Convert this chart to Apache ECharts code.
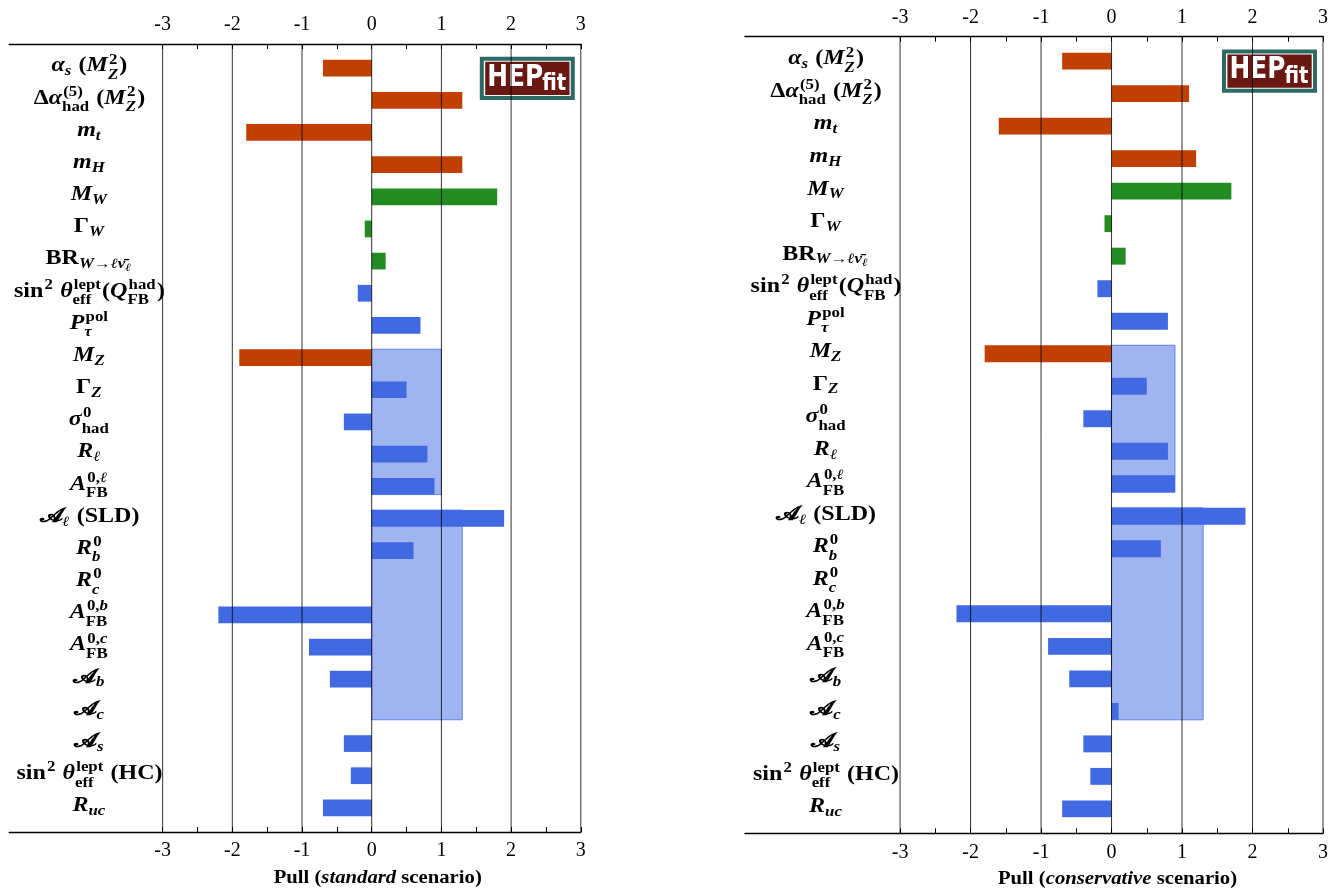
<!DOCTYPE html>
<html>
<head>
<meta charset="utf-8">
<title>Pulls</title>
<script src="https://cdn.jsdelivr.net/npm/echarts@6/dist/echarts.min.js"></script>
<style>
  html, body { margin: 0; padding: 0; background: #fff; }
  #main { width: 1336px; height: 890px; }
</style>
</head>
<body>
<div id="main"></div>
<script>
// observables, top to bottom. mini TeX: _ sub, ^ sup, `...` upright text
var observables = [
  "α_s (M^2_Z)",
  "Δα^{(5)}_{`had`} (M^2_Z)",
  "m_t",
  "m_H",
  "M_W",
  "Γ_W",
  "`BR`_{W→ℓ\u03bd\u0304_ℓ}",
  "`sin`^2 θ^{`lept`}_{`eff`}(Q^{`had`}_{`FB`})",
  "P^{`pol`}_τ",
  "M_Z",
  "Γ_Z",
  "σ^0_{`had`}",
  "R_ℓ",
  "A^{0,ℓ}_{`FB`}",
  "𝓐_ℓ `(SLD)`",
  "R^0_b",
  "R^0_c",
  "A^{0,b}_{`FB`}",
  "A^{0,c}_{`FB`}",
  "𝓐_b",
  "𝓐_c",
  "𝓐_s",
  "`sin`^2 θ^{`lept`}_{`eff`} `(HC)`",
  "R_{uc}"
];
var observableGroups = ['input', 'input', 'input', 'input', 'w', 'w', 'w', 'z', 'z', 'input', 'z', 'z',
  'z', 'z', 'z', 'z', 'z', 'z', 'z', 'z', 'z', 'z', 'z', 'z'];

var pullStandard = [-0.7, 1.3, -1.8, 1.3, 1.8, -0.1, 0.2, -0.2, 0.7, -1.9, 0.5, -0.4,
  0.8, 0.9, 1.9, 0.6, 0.0, -2.2, -0.9, -0.6, 0.0, -0.4, -0.3, -0.7];
var pullConservative = [-0.7, 1.1, -1.6, 1.2, 1.7, -0.1, 0.2, -0.2, 0.8, -1.8, 0.5, -0.4,
  0.8, 0.9, 1.9, 0.7, 0.0, -2.2, -0.9, -0.6, 0.1, -0.4, -0.3, -0.7];

// shaded boxes: [first row, last row, pull]
var boxesStandard = [[9, 13, 1.0], [14, 20, 1.3]];
var boxesConservative = [[9, 13, 0.9], [14, 20, 1.3]];

var tickValues = [-3, -2, -1, 0, 1, 2, 3];
var minorTickValues = [-3, -2.5, -2, -1.5, -1, -0.5, 0, 0.5, 1, 1.5, 2, 2.5, 3];

var GROUP_COLORS = { input: '#c04000', w: '#228b22', z: '#4169e1' };
var SERIF = '"Liberation Serif", "DejaVu Serif", serif';
var MATH_SIZES = [20, 14, 11];
var LABEL_STRETCH = 1.2;
var LABEL_X = -4.05;
var BAR_H = 0.52;
var X_MIN = -5.2, X_MAX = 3;
var Y_MIN = -0.75, Y_MAX = 23.75;

var panels = [
  { left: 9.3, right: 755.2, top: 44, bottom: 58, pulls: pullStandard, boxes: boxesStandard, word: 'standard' },
  { left: 745, right: 13, top: 36.7, bottom: 56.7, pulls: pullConservative, boxes: boxesConservative, word: 'conservative' }
];

// ---- tiny math layout, widths from a canvas ----
var mctx = document.createElement('canvas').getContext('2d');
function fontStr(size, italic) {
  return (italic ? 'italic ' : '') + 'bold ' + size + 'px ' + SERIF;
}
function measure(text, size, italic) {
  mctx.font = fontStr(size, italic);
  return mctx.measureText(text).width;
}
function readGroup(s, i) {
  if (s[i] === '{') {
    var depth = 1, j = i + 1;
    while (j < s.length && depth) {
      if (s[j] === '{') depth++;
      else if (s[j] === '}') depth--;
      j++;
    }
    return [s.slice(i + 1, j - 1), j];
  }
  var ch = String.fromCodePoint(s.codePointAt(i));
  return [ch, i + ch.length];
}
function layoutMath(s, level) {
  var size = MATH_SIZES[Math.min(level, 2)];
  var items = [], x = 0, i = 0, roman = false, run = '', runItalic = null;
  function flush() {
    if (run) {
      items.push({ text: run, x: x, dy: 0, size: size, italic: runItalic });
      x += measure(run, size, runItalic);
      run = '';
    }
  }
  while (i < s.length) {
    var c = s[i];
    if (c === '`') { roman = !roman; i++; continue; }
    if (c === '_' || c === '^') {
      flush();
      var g = readGroup(s, i + 1); i = g[1];
      var sup = c === '^' ? g[0] : null, sub = c === '_' ? g[0] : null;
      var other = c === '^' ? '_' : '^';
      if (s[i] === other) {
        var g2 = readGroup(s, i + 1); i = g2[1];
        if (other === '^') sup = g2[0]; else sub = g2[0];
      }
      var w = 0;
      if (sup !== null) {
        var A = layoutMath(sup, level + 1);
        A.items.forEach(function (it) {
          items.push({ text: it.text, x: x + 1 + it.x, dy: it.dy - size * 0.42, size: it.size, italic: it.italic });
        });
        w = Math.max(w, A.width + 1);
      }
      if (sub !== null) {
        var B = layoutMath(sub, level + 1);
        var down = sup !== null ? size * 0.35 : size * 0.17;
        B.items.forEach(function (it) {
          items.push({ text: it.text, x: x + it.x, dy: it.dy + down, size: it.size, italic: it.italic });
        });
        w = Math.max(w, B.width);
      }
      x += w + 1;
      continue;
    }
    var ch = String.fromCodePoint(s.codePointAt(i));
    i += ch.length;
    var it = /[\u0300-\u036f]/.test(ch) ? runItalic : (!roman && /[A-Za-z\u03b1-\u03c9ℓ]/.test(ch));
    if (run && it !== runItalic) flush();
    runItalic = it;
    run += ch;
  }
  flush();
  return { items: items, width: x };
}
var layouts = observables.map(function (s) { return layoutMath(s, 0); });

// ---- renderers ----
function renderBar(params, api) {
  var v = api.value(0), row = api.value(1);
  var p0 = api.coord([0, row]), p1 = api.coord([v, row]);
  var h = api.size([0, BAR_H])[1];
  return {
    type: 'rect',
    shape: { x: Math.min(p0[0], p1[0]), y: p0[1] - h / 2, width: Math.abs(p1[0] - p0[0]), height: h },
    style: { fill: GROUP_COLORS[observableGroups[row]] }
  };
}
function renderBox(params, api) {
  var w = api.value(0), a = api.value(1), b = api.value(2);
  var p0 = api.coord([0, a - BAR_H / 2]), p1 = api.coord([w, b + BAR_H / 2]);
  return {
    type: 'rect',
    shape: { x: p0[0], y: p0[1], width: p1[0] - p0[0], height: p1[1] - p0[1] },
    style: { fill: 'rgba(65,105,225,0.5)', stroke: 'rgba(65,105,225,0.75)', lineWidth: 1 }
  };
}
function renderGridLine(params, api) {
  var v = api.value(0);
  var a = api.coord([v, Y_MIN]), b = api.coord([v, Y_MAX]);
  return {
    type: 'line',
    shape: { x1: a[0], y1: a[1], x2: b[0], y2: b[1] },
    style: { stroke: 'rgba(0,0,0,0.8)', lineWidth: 1 }
  };
}
function renderLabel(params, api) {
  var row = api.value(1);
  var p = api.coord([api.value(0), row]);
  var L = layouts[row];
  var kids = L.items.map(function (it) {
    return {
      type: 'text',
      x: it.x - L.width / 2,
      y: 5 + it.dy - 0.34 * it.size,
      style: {
        text: it.text, fill: '#000', font: fontStr(it.size, it.italic),
        textAlign: 'left', align: 'left', textVerticalAlign: 'middle', verticalAlign: 'middle'
      }
    };
  });
  return { type: 'group', x: p[0], y: p[1], scaleX: LABEL_STRETCH, children: kids };
}

var option = {
  animation: false,
  backgroundColor: '#fff',
  grid: [], xAxis: [], yAxis: [], series: []
};
panels.forEach(function (p, k) {
  option.grid.push({ left: p.left, right: p.right, top: p.top, bottom: p.bottom, containLabel: false, outerBoundsMode: 'none' });
  ['top', 'bottom'].forEach(function (pos) {
    option.xAxis.push({
      gridIndex: k, type: 'value', position: pos, min: X_MIN, max: X_MAX,
      axisLine: { show: true, onZero: false, lineStyle: { color: '#000', width: 1.4 } },
      axisTick: { show: true, inside: true, length: 5, customValues: minorTickValues, lineStyle: { color: '#000', width: 1 } },
      axisLabel: { show: true, customValues: tickValues, margin: pos === 'top' ? 9 : 9, color: '#000', fontFamily: SERIF, fontSize: 20 },
      splitLine: { show: false }
    });
  });
  option.yAxis.push({ gridIndex: k, type: 'value', min: Y_MIN, max: Y_MAX, inverse: true, show: false });
  var common = { type: 'custom', xAxisIndex: 2 * k, yAxisIndex: k, silent: true, encode: { x: 0, y: 1 } };
  option.series.push(Object.assign({}, common, {
    name: 'boxes' + k, z: 1, renderItem: renderBox,
    data: p.boxes.map(function (b) { return [b[2], b[0], b[1]]; })
  }));
  option.series.push(Object.assign({}, common, {
    name: 'pulls' + k, z: 2, renderItem: renderBar,
    data: p.pulls.map(function (v, i) { return [v, i]; })
  }));
  option.series.push(Object.assign({}, common, {
    name: 'grid' + k, z: 3, renderItem: renderGridLine,
    data: tickValues.map(function (v) { return [v, Y_MIN]; })
  }));
  option.series.push(Object.assign({}, common, {
    name: 'labels' + k, z: 3, renderItem: renderLabel,
    data: observables.map(function (s, i) { return [LABEL_X, i]; })
  }));
});

var chart = echarts.init(document.getElementById('main'), null, { renderer: 'canvas' });
chart.setOption(option);

// logos and axis titles, placed from the grids
function logo(x, y) {
  var logoFont = '"DejaVu Sans Condensed", "DejaVu Sans"';
  return {
    type: 'group', x: x, y: y, silent: true, children: [
      { type: 'rect', shape: { x: 2, y: 2, width: 91, height: 39.3 }, style: { fill: '#fff', stroke: '#2d6a66', lineWidth: 4 } },
      { type: 'rect', shape: { x: 5.4, y: 5, width: 84.3, height: 33.3 }, style: { fill: '#6b1812' } },
      { type: 'text', x: 7.5, y: 21.3, scaleX: 0.92, style: { text: 'HEP', fill: '#fff', stroke: '#3a0a06', lineWidth: 0.6, font: 'bold 30px ' + logoFont, textVerticalAlign: 'middle', verticalAlign: 'middle' } },
      { type: 'text', x: 62.5, y: 27.2, scaleX: 0.95, style: { text: 'fit', fill: '#fff', font: 'bold 23px ' + logoFont, textVerticalAlign: 'middle', verticalAlign: 'middle' } }
    ]
  };
}
function axisTitle(x, y, word) {
  var parts = [['Pull (', false], [word, true], [' scenario)', false]];
  var total = 0;
  parts.forEach(function (q) { total += measure(q[0], 18, q[1]); });
  var cx = -total / 2, kids = [];
  parts.forEach(function (q) {
    kids.push({ type: 'text', x: cx, y: 0, style: { text: q[0], fill: '#000', font: fontStr(18, q[1]), textVerticalAlign: 'middle', verticalAlign: 'middle' } });
    cx += measure(q[0], 18, q[1]);
  });
  return { type: 'group', x: x, y: y, scaleX: 1.15, silent: true, children: kids };
}
var graphics = [];
panels.forEach(function (p, k) {
  var topRight = chart.convertToPixel({ gridIndex: k }, [X_MAX, Y_MIN]);
  var zeroBottom = chart.convertToPixel({ gridIndex: k }, [0, Y_MAX]);
  graphics.push(logo(topRight[0] - 6 - 95, topRight[1] + 12.7));
  graphics.push(axisTitle(zeroBottom[0] + 6, zeroBottom[1] + 46, p.word));
});
chart.setOption({ graphic: graphics });
</script>
</body>
</html>
